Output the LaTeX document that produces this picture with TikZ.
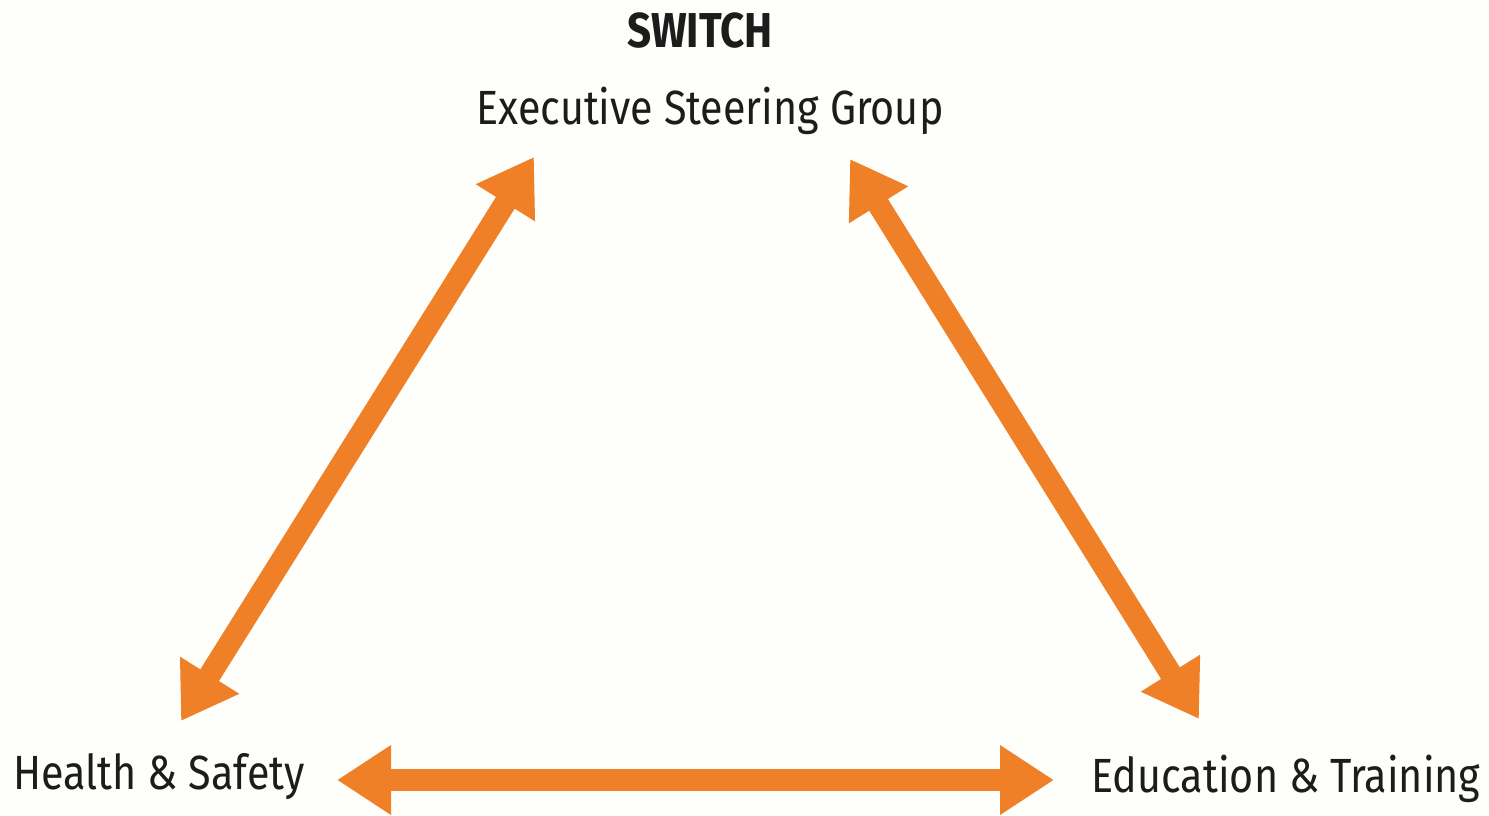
\documentclass[tikz,border=0pt]{standalone}
\usepackage{fontspec}
\setmainfont[FakeStretch=0.86]{Fira Sans}
\usetikzlibrary{arrows.meta}
\definecolor{arroworange}{RGB}{240,128,40}
\definecolor{paper}{RGB}{254,254,251}
\definecolor{ink}{RGB}{28,28,28}
\tikzset{
  label/.style={inner sep=0pt, anchor=base, text=ink, font=\fontsize{24}{28}\selectfont},
  title/.style={label, font=\fontsize{24.5}{28}\selectfont\bfseries},
  dblarrow/.style={draw=arroworange, line width=11pt,
    {Triangle[length=27pt,width=33pt]}-{Triangle[length=27pt,width=33pt]}}
}
\begin{document}
\begin{tikzpicture}[x=0.5pt,y=-0.5pt]
  \fill[paper] (0,0) rectangle (1489,815);
  \useasboundingbox (0,0) rectangle (1489,815);
  \node[title] (switch) at (700,47) {SWITCH};
  \node[label] (esg) at (710,124) {Executive Steering Group};
  \node[label] (hs) at (159,789) {Health \& Safety};
  \node[label] (et) at (1286,792) {Education \& Training};
  \coordinate (lt) at (534,157);
  \coordinate (lb) at (181,721);
  \coordinate (rt) at (850,159);
  \coordinate (rb) at (1199,719);
  \coordinate (hl) at (337,780);
  \coordinate (hr) at (1054,780);
  \draw[dblarrow] (lb) -- (lt);
  \draw[dblarrow] (rt) -- (rb);
  \draw[dblarrow] (hl) -- (hr);
\end{tikzpicture}
\end{document}
